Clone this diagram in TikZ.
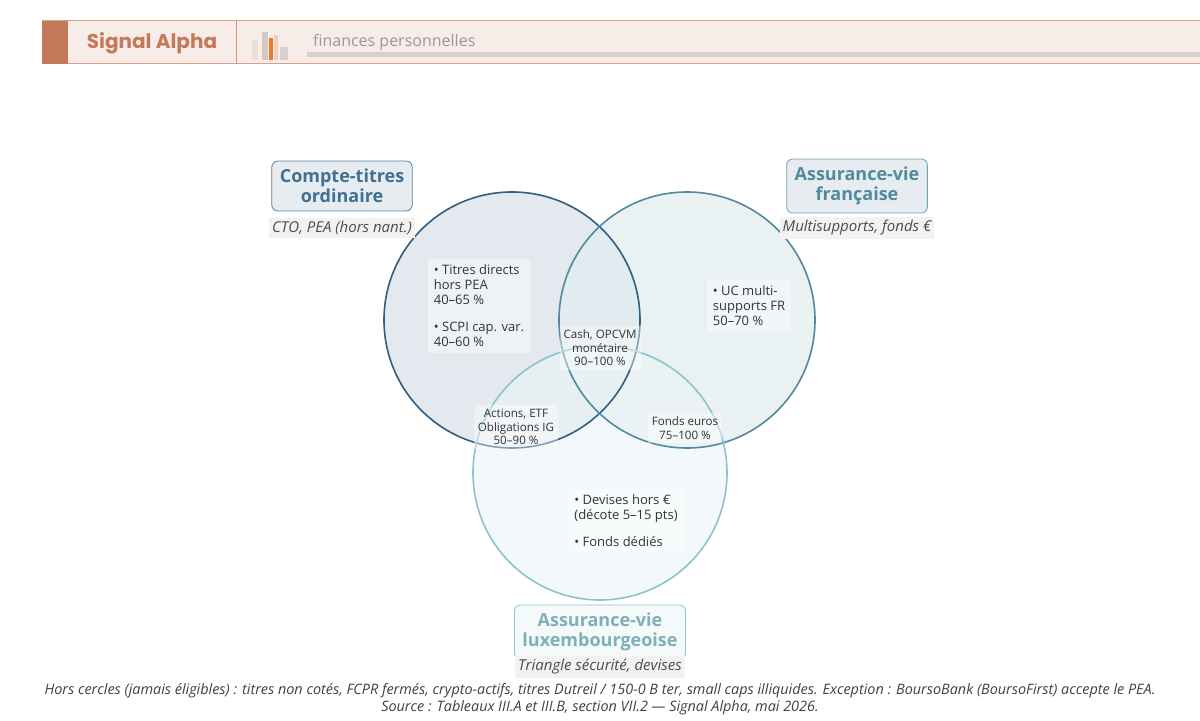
\documentclass[tikz,border=0pt]{standalone}
\usepackage{fontspec}
\setmainfont{Open Sans}
\newfontfamily\popfont{Poppins}
\usetikzlibrary{positioning}
\definecolor{brick}{HTML}{C47A5A}
\definecolor{headbg}{HTML}{F7ECE7}
\definecolor{ctoblue}{HTML}{2E5F85}
\definecolor{avfblue}{HTML}{4F8A9E}
\definecolor{avlblue}{HTML}{8DC3CE}
\definecolor{inktext}{HTML}{333333}
\begin{document}
\begin{tikzpicture}[x=0.5pt,y=-0.5pt,
  titlebox/.style={draw, rounded corners=3pt, fill=white!88!ctoblue, align=center, font=\fontsize{9}{10}\selectfont\bfseries, inner sep=4pt, line width=0.4pt},
  subtitle/.style={fill=black!5, font=\fontsize{7.5}{8}\selectfont\itshape, text=black!70, inner sep=1.5pt},
  region/.style={fill=white, fill opacity=0.45, text opacity=1, align=left, font=\fontsize{6.5}{7.5}\selectfont, text=inktext, inner sep=3pt},
  overlap/.style={fill=white, fill opacity=0.4, text opacity=1, align=center, font=\fontsize{5.8}{6.8}\selectfont, text=inktext, inner sep=2pt}]
\useasboundingbox (0,0) rectangle (1200,721);
% header
\fill[headbg] (42,21) rectangle (1200,64);
\draw[brick!70, line width=0.5pt] (42,21) -- (1200,21) (42,64) -- (1200,64);
\fill[brick] (42,21) rectangle (68,64);
\draw[brick!80, line width=0.5pt] (236,21) -- (236,64);
\node[text=brick, font=\popfont\fontsize{10}{11}\selectfont\bfseries] (brand) at (152,43) {Signal Alpha};
\fill[brick!25] (252,40) rectangle (258,60);
\fill[black!15!headbg] (262,32) rectangle (268,60);
\fill[orange!50!brick] (269,38) rectangle (273,60);
\fill[brick!35] (274,35) rectangle (278,60);
\fill[black!12!headbg] (280,47) rectangle (288,60);
\node[anchor=west, text=black!40, font=\fontsize{8}{9}\selectfont] (tag) at (306,42) {finances personnelles};
\fill[black!12!headbg] (307,52) rectangle (1200,57);
% circles
\fill[ctoblue!16, fill opacity=0.85] (512,320) circle (128);
\fill[avfblue!16, fill opacity=0.75] (687,320) circle (128);
\fill[avlblue!18, fill opacity=0.6] (600,473) circle (127);
\draw[ctoblue, line width=0.8pt] (512,320) circle (128);
\draw[avfblue, line width=0.8pt] (687,320) circle (128);
\draw[avlblue, line width=0.8pt] (600,473) circle (127);
% titles
\node[titlebox, draw=ctoblue!80, text=ctoblue!90] (cto) at (342,186) {Compte-titres\\ordinaire};
\node[subtitle] (ctosub) at (342,228) {CTO, PEA (hors nant.)};
\node[titlebox, draw=avfblue!80, text=avfblue] (avf) at (857,186) {Assurance-vie\\française};
\node[subtitle] (avfsub) at (857,228) {Multisupports, fonds €};
\node[titlebox, draw=avlblue, text=avlblue!90!black, fill=white!90!avlblue] (avl) at (600,632) {Assurance-vie\\luxembourgeoise};
\node[subtitle] (avlsub) at (600,667) {Triangle sécurité, devises};
% regions
\node[region] (ctoonly) at (479,306) {• Titres directs\\hors PEA\\40–65 \%\\[6pt]• SCPI cap. var.\\40–60 \%};
\node[region] (avfonly) at (749,306) {• UC multi-\\supports FR\\50–70 \%};
\node[region] (avlonly) at (626,521) {• Devises hors €\\(décote 5–15 pts)\\[6pt]• Fonds dédiés};
\node[overlap] (ctoavf) at (600,348) {Cash, OPCVM\\monétaire\\90–100 \%};
\node[overlap] (ctoavl) at (516,427) {Actions, ETF\\Obligations IG\\50–90 \%};
\node[overlap] (avfavl) at (685,428) {Fonds euros\\75–100 \%};
% footer
\node[font=\fontsize{7.2}{8.5}\selectfont\itshape, text=black!75, align=center] (note) at (600,699) {Hors cercles (jamais éligibles) : titres non cotés, FCPR fermés, crypto-actifs, titres Dutreil / 150-0 B ter, small caps illiquides. Exception : BoursoBank (BoursoFirst) accepte le PEA.\\Source : Tableaux III.A et III.B, section VII.2 — Signal Alpha, mai 2026.};
\end{tikzpicture}
\end{document}
